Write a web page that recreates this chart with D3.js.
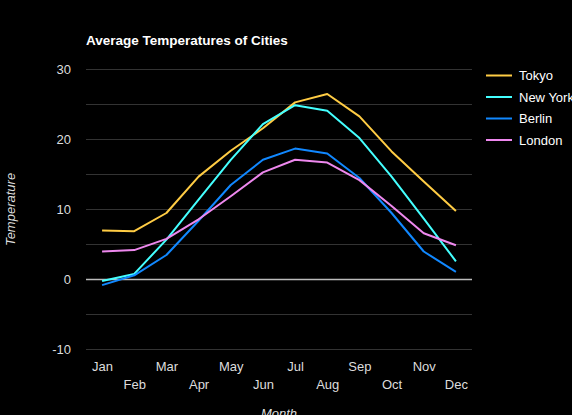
<!DOCTYPE html>
<html><head><meta charset="utf-8">
<script src="https://cdn.jsdelivr.net/npm/d3@7"></script>
<style>
html,body{margin:0;padding:0;background:#000;}
svg{display:block;font-family:Arial,"Liberation Sans",sans-serif;}
</style></head>
<body><svg id="c" width="572" height="415"></svg>
<script>
const months = ["Jan","Feb","Mar","Apr","May","Jun","Jul","Aug","Sep","Oct","Nov","Dec"];
const cities = ["Tokyo","New York","Berlin","London"];
const tokyo   = [7.0, 6.9, 9.5, 14.7, 18.4, 21.6, 25.3, 26.5, 23.3, 18.3, 14.0, 9.8];
const newYork = [-0.2, 0.8, 5.7, 11.4, 17.1, 22.2, 24.9, 24.1, 20.2, 14.7, 8.7, 2.6];
const berlin  = [-0.8, 0.6, 3.5, 8.4, 13.5, 17.1, 18.7, 18.0, 14.5, 9.5, 4.0, 1.1];
const london  = [4.0, 4.2, 5.8, 8.6, 11.9, 15.3, 17.1, 16.7, 14.2, 10.5, 6.6, 4.9];
const colors  = ["#ffcc44","#44ffff","#1188ff","#ee88ee"];
const yTicks  = [-10, 0, 10, 20, 30];
const yGrid   = [-10, -5, 0, 5, 10, 15, 20, 25, 30];
const title = "Average Temperatures of Cities";
const xTitle = "Month", yTitle = "Temperature";

const series = [tokyo, newYork, berlin, london];
const svg = d3.select("#c");
svg.append("rect").attr("width",572).attr("height",415).attr("fill","#000");

const L = 86, R = 472, T = 69.5, B = 349.5;
const x = d3.scalePoint().domain(months).range([L, R]).padding(0.5);
const y = d3.scaleLinear().domain([-10, 30]).range([B, T]);

// grid
svg.append("g").selectAll("line").data(yGrid.filter(v => v !== 0)).join("line")
  .attr("x1", L).attr("x2", R)
  .attr("y1", d => y(d)).attr("y2", d => y(d))
  .attr("stroke", "#333").attr("stroke-width", 1);
svg.append("line").attr("x1", L).attr("x2", R).attr("y1", y(0)).attr("y2", y(0))
  .attr("stroke", "#bbb").attr("stroke-width", 1.5);

// y axis labels
const yAxis = d3.axisLeft(y).tickValues(yTicks).tickSize(0).tickPadding(0)
  .tickFormat(d => String(d));
const gy = svg.append("g").attr("transform", `translate(${L - 15},0)`).call(yAxis);
gy.select(".domain").remove();
gy.selectAll("text").attr("fill", "#ddd").attr("font-size", 13).attr("font-family", "Arial,'Liberation Sans',sans-serif");

// x axis labels (alternating rows)
const xAxis = d3.axisBottom(x).tickSize(0).tickPadding(0);
const gx = svg.append("g").attr("transform", `translate(0,${B})`).call(xAxis);
gx.select(".domain").remove();
gx.selectAll("text").attr("fill", "#ddd").attr("font-size", 13)
  .attr("font-family", "Arial,'Liberation Sans',sans-serif")
  .attr("dy", null)
  .attr("y", (d, i) => i % 2 === 0 ? 21 : 39);

// lines
const line = d3.line().x((d, i) => x(months[i])).y(d => y(d));
svg.append("g").selectAll("path").data(series).join("path")
  .attr("d", d => line(d)).attr("fill", "none")
  .attr("stroke", (d, i) => colors[i]).attr("stroke-width", 2)
  .attr("stroke-linejoin", "round");

// title
svg.append("text").attr("x", L).attr("y", 45).text(title)
  .attr("fill", "#fff").attr("font-size", 13.5).attr("font-weight", "bold");

// axis titles
svg.append("text").attr("x", (L + R) / 2).attr("y", 418).attr("text-anchor", "middle")
  .attr("fill", "#ddd").attr("font-size", 13).attr("font-style", "italic").text(xTitle);
svg.append("text").attr("transform", `translate(15,${(T + B) / 2}) rotate(-90)`)
  .attr("text-anchor", "middle").attr("fill", "#ddd").attr("font-size", 13)
  .attr("font-style", "italic").text(yTitle);

// legend
const lg = svg.append("g").selectAll("g").data(cities).join("g")
  .attr("transform", (d, i) => `translate(486,${75.5 + i * 21.5})`);
lg.append("line").attr("x1", 0).attr("x2", 26).attr("stroke", (d, i) => colors[i]).attr("stroke-width", 2);
lg.append("text").attr("x", 33).attr("y", 4.5).text(d => d)
  .attr("fill", "#fff").attr("font-size", 13);
</script></body></html>
